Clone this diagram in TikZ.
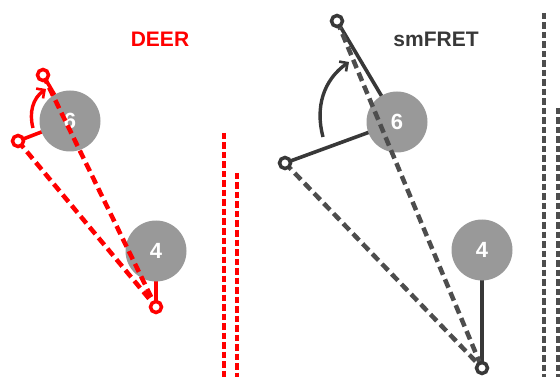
\documentclass[tikz,border=0pt]{standalone}
\usepackage{fontspec}
\setmainfont{Liberation Sans}
\usetikzlibrary{arrows.meta}
\definecolor{dkgray}{HTML}{383838}
\definecolor{dshgray}{HTML}{4D4D4D}
\definecolor{ballgray}{HTML}{999999}
\definecolor{deerred}{HTML}{FF0000}
\begin{document}
\begin{tikzpicture}[x=1pt,y=-1pt,
  ball/.style={circle,fill=ballgray,minimum size=61pt,inner sep=0pt,text=white,font=\bfseries\fontsize{22}{22}\selectfont},
  marker/.style={circle,draw=#1,fill=white,line width=3.5pt,minimum size=11pt,inner sep=0pt},
  solidline/.style={draw=#1,line width=3.6pt},
  dashline/.style={draw=#1,line width=4.5pt,dash pattern=on 9pt off 5pt},
  vdash/.style={draw=#1,line width=4pt,dash pattern=on 6.5pt off 3pt},
  turn/.style={draw=#1,line width=3.4pt,-{Straight Barb[length=6pt,width=12pt,line width=2.6pt]}},
  title/.style={font=\bfseries\fontsize{21}{21}\selectfont,text=#1}]
\useasboundingbox (0,0) rectangle (560,377);

% ---------- DEER ----------
\node[title=deerred] (tdeer) at (160,39) {DEER};
\coordinate (rA) at (43,75);
\coordinate (rB) at (18,141);
\coordinate (rC) at (156,307);
\draw[solidline=deerred] (rA) -- (70,121);
\draw[solidline=deerred] (rB) -- (70,121);
\draw[solidline=deerred] (rC) -- (156,251);
\node[ball] (r6) at (70,121) {6};
\node[ball] (r4) at (156,251) {4};
\draw[dashline=deerred] (rA) -- (rC);
\draw[dashline=deerred] (rB) -- (rC);
\node[marker=deerred] (mrA) at (rA) {};
\node[marker=deerred] (mrB) at (rB) {};
\node[marker=deerred] (mrC) at (rC) {};
\coordinate (ra1) at (33,128);
\coordinate (ra2) at (46,89);
\draw[turn=deerred] (ra1) to[out=105,in=215] (ra2);
\coordinate (rv1t) at (224,133);
\coordinate (rv1b) at (224,377);
\coordinate (rv2t) at (237,173);
\coordinate (rv2b) at (237,377);
\draw[vdash=deerred] (rv1t) -- (rv1b);
\draw[vdash=deerred] (rv2t) -- (rv2b);

% ---------- smFRET ----------
\node[title=dkgray] (tfret) at (436,39) {smFRET};
\coordinate (gA) at (337,21);
\coordinate (gB) at (285,163);
\coordinate (gC) at (482,368);
\draw[solidline=dkgray] (gA) -- (397,122);
\draw[solidline=dkgray] (gB) -- (397,122);
\draw[solidline=dkgray] (gC) -- (482,250);
\node[ball] (g6) at (397,122) {6};
\node[ball] (g4) at (482,250) {4};
\draw[dashline=dshgray] (gA) -- (gC);
\draw[dashline=dshgray] (gB) -- (gC);
\node[marker=dkgray] (mgA) at (gA) {};
\node[marker=dkgray] (mgB) at (gB) {};
\node[marker=dkgray] (mgC) at (gC) {};
\coordinate (ga1) at (323,137);
\coordinate (ga2) at (349,62);
\draw[turn=dkgray] (ga1) to[out=105,in=215] (ga2);
\coordinate (gv1t) at (544,13);
\coordinate (gv1b) at (544,377);
\coordinate (gv2t) at (558,108);
\coordinate (gv2b) at (558,377);
\draw[vdash=dshgray] (gv1t) -- (gv1b);
\draw[vdash=dshgray] (gv2t) -- (gv2b);
\end{tikzpicture}
\end{document}
